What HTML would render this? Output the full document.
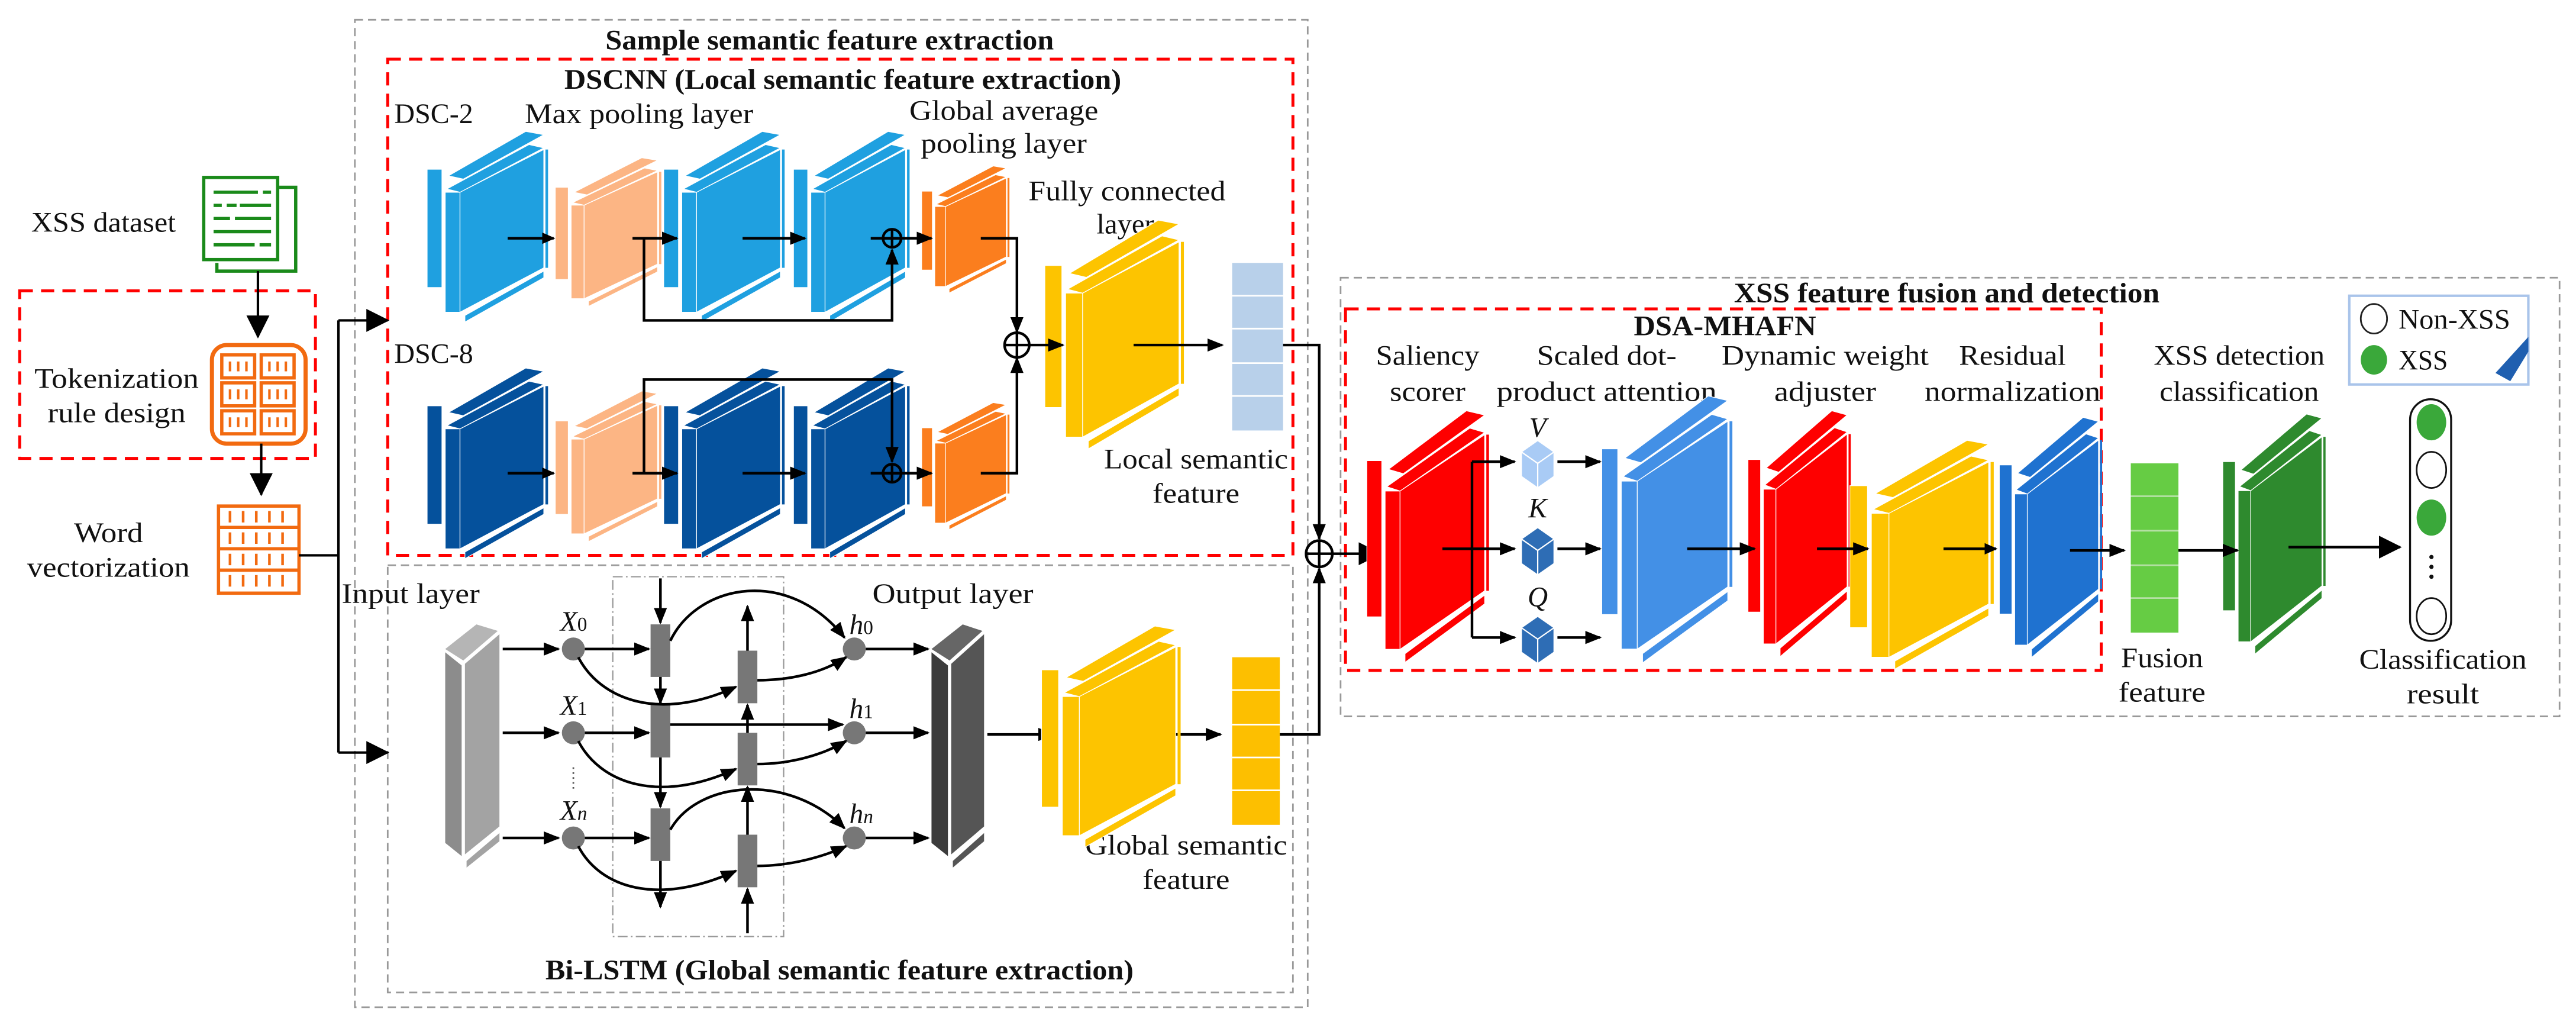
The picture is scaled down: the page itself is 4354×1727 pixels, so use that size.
<!DOCTYPE html>
<html><head><meta charset="utf-8"><style>
html,body{margin:0;padding:0;background:#fff;}
svg{display:block;}
svg text{font-family:"Liberation Serif","DejaVu Serif","Times New Roman",serif;font-size:17px;fill:#111;}
.b{font-weight:bold;}
</style></head><body>
<svg xmlns="http://www.w3.org/2000/svg" xmlns:xlink="http://www.w3.org/1999/xlink" width="4354" height="1727" viewBox="0 0 1568 622" preserveAspectRatio="none" font-family="Liberation Serif, DejaVu Serif, serif">
<defs>
<marker id="a" markerWidth="10" markerHeight="8" refX="9" refY="4" orient="auto" markerUnits="userSpaceOnUse"><path d="M0,0L10,4L0,8z" fill="#000"/></marker>
<marker id="A" markerWidth="14" markerHeight="14" refX="13" refY="7" orient="auto" markerUnits="userSpaceOnUse"><path d="M0,0L14,7L0,14z" fill="#000"/></marker>
<marker id="s" markerWidth="8" markerHeight="7" refX="7" refY="3.5" orient="auto" markerUnits="userSpaceOnUse"><path d="M0,0L8,3.5L0,7z" fill="#000"/></marker>
<g id="blk" stroke="#fff" stroke-width="1.2">
<rect x="0" y="23" width="9" height="72" fill="currentColor" vector-effect="non-scaling-stroke"/>
<rect x="11" y="37" width="9" height="73" fill="currentColor" vector-effect="non-scaling-stroke"/>
<polygon points="20,37 71,11 71,83 20,110" fill="currentColor" vector-effect="non-scaling-stroke"/>
<polygon points="13,27 60,0 71,2 22,29" fill="currentColor" vector-effect="non-scaling-stroke"/>
<polygon points="12,35 62,8 71,10 20,37" fill="currentColor" vector-effect="non-scaling-stroke"/>
<polygon points="23,112 71,85 71,89 23,116" fill="currentColor" vector-effect="non-scaling-stroke"/>
<rect x="72" y="11" width="1.6" height="72" fill="currentColor" stroke="none"/>
</g>
</defs>

<rect x="216" y="12" width="580" height="601" fill="none" stroke="#999" stroke-width="1" stroke-dasharray="5 3"/>
<rect x="236" y="36" width="551" height="302" fill="none" stroke="#f00" stroke-width="1.8" stroke-dasharray="8 5"/>
<rect x="236" y="344" width="551" height="260" fill="none" stroke="#999" stroke-width="1" stroke-dasharray="5 3"/>
<rect x="816" y="169" width="742" height="267" fill="none" stroke="#999" stroke-width="1" stroke-dasharray="5 3"/>
<rect x="819" y="188" width="460" height="220" fill="none" stroke="#f00" stroke-width="1.8" stroke-dasharray="8 5"/>
<rect x="12" y="177" width="180" height="102" fill="none" stroke="#f00" stroke-width="1.8" stroke-dasharray="8 5"/>
<rect x="373" y="351" width="104" height="219" fill="none" stroke="#999" stroke-width="0.8" stroke-dasharray="6 2 1 2"/>

<text class="b" x="505" y="30" text-anchor="middle" textLength="273" lengthAdjust="spacingAndGlyphs">Sample semantic feature extraction</text>
<text class="b" x="513" y="54" text-anchor="middle" textLength="339" lengthAdjust="spacingAndGlyphs">DSCNN (Local semantic feature extraction)</text>
<text class="b" x="511" y="596" text-anchor="middle" textLength="358" lengthAdjust="spacingAndGlyphs">Bi-LSTM (Global semantic feature extraction)</text>
<text class="b" x="1185" y="184" text-anchor="middle" textLength="259" lengthAdjust="spacingAndGlyphs">XSS feature fusion and detection</text>
<text class="b" x="1050" y="204" text-anchor="middle" textLength="111" lengthAdjust="spacingAndGlyphs">DSA-MHAFN</text>

<text x="63" y="141" text-anchor="middle" textLength="88" lengthAdjust="spacingAndGlyphs">XSS dataset</text>
<text x="71" y="236" text-anchor="middle" textLength="100" lengthAdjust="spacingAndGlyphs">Tokenization</text>
<text x="71" y="257" text-anchor="middle" textLength="84" lengthAdjust="spacingAndGlyphs">rule design</text>
<text x="66" y="330" text-anchor="middle" textLength="42" lengthAdjust="spacingAndGlyphs">Word</text>
<text x="66" y="351" text-anchor="middle" textLength="99" lengthAdjust="spacingAndGlyphs">vectorization</text>

<text x="240" y="75" textLength="48" lengthAdjust="spacingAndGlyphs">DSC-2</text>
<text x="389" y="75" text-anchor="middle" textLength="139" lengthAdjust="spacingAndGlyphs">Max pooling layer</text>
<text x="611" y="73" text-anchor="middle" textLength="115" lengthAdjust="spacingAndGlyphs">Global average</text>
<text x="611" y="93" text-anchor="middle" textLength="101" lengthAdjust="spacingAndGlyphs">pooling layer</text>
<text x="686" y="122" text-anchor="middle" textLength="120" lengthAdjust="spacingAndGlyphs">Fully connected</text>
<text x="685" y="142" text-anchor="middle" textLength="35" lengthAdjust="spacingAndGlyphs">layer</text>
<text x="240" y="221" textLength="48" lengthAdjust="spacingAndGlyphs">DSC-8</text>
<text x="728" y="285" text-anchor="middle" textLength="112" lengthAdjust="spacingAndGlyphs">Local semantic</text>
<text x="728" y="306" text-anchor="middle" textLength="53" lengthAdjust="spacingAndGlyphs">feature</text>

<text x="250" y="367" text-anchor="middle" textLength="84" lengthAdjust="spacingAndGlyphs">Input layer</text>
<text x="580" y="367" text-anchor="middle" textLength="98" lengthAdjust="spacingAndGlyphs">Output layer</text>
<text x="722" y="520" text-anchor="middle" textLength="123" lengthAdjust="spacingAndGlyphs">Global semantic</text>
<text x="722" y="541" text-anchor="middle" textLength="53" lengthAdjust="spacingAndGlyphs">feature</text>
<text x="341" y="384" font-style="italic">X<tspan font-style="normal" font-size="12">0</tspan></text>
<text x="341" y="435" font-style="italic">X<tspan font-style="normal" font-size="12">1</tspan></text>
<text x="341" y="499" font-style="italic">X<tspan font-size="12">n</tspan></text>
<text x="517" y="386" font-style="italic">h<tspan font-style="normal" font-size="12">0</tspan></text>
<text x="517" y="437" font-style="italic">h<tspan font-style="normal" font-size="12">1</tspan></text>
<text x="517" y="501" font-style="italic">h<tspan font-size="12">n</tspan></text>

<text x="869" y="222" text-anchor="middle" textLength="63" lengthAdjust="spacingAndGlyphs">Saliency</text>
<text x="869" y="244" text-anchor="middle" textLength="46" lengthAdjust="spacingAndGlyphs">scorer</text>
<text x="978" y="222" text-anchor="middle" textLength="85" lengthAdjust="spacingAndGlyphs">Scaled dot-</text>
<text x="978" y="244" text-anchor="middle" textLength="134" lengthAdjust="spacingAndGlyphs">product attention</text>
<text x="1111" y="222" text-anchor="middle" textLength="126" lengthAdjust="spacingAndGlyphs">Dynamic weight</text>
<text x="1111" y="244" text-anchor="middle" textLength="62" lengthAdjust="spacingAndGlyphs">adjuster</text>
<text x="1225" y="222" text-anchor="middle" textLength="65" lengthAdjust="spacingAndGlyphs">Residual</text>
<text x="1225" y="244" text-anchor="middle" textLength="107" lengthAdjust="spacingAndGlyphs">normalization</text>
<text x="1363" y="222" text-anchor="middle" textLength="104" lengthAdjust="spacingAndGlyphs">XSS detection</text>
<text x="1363" y="244" text-anchor="middle" textLength="97" lengthAdjust="spacingAndGlyphs">classification</text>
<text x="1316" y="406" text-anchor="middle" textLength="50" lengthAdjust="spacingAndGlyphs">Fusion</text>
<text x="1316" y="427" text-anchor="middle" textLength="53" lengthAdjust="spacingAndGlyphs">feature</text>
<text x="1487" y="407" text-anchor="middle" textLength="102" lengthAdjust="spacingAndGlyphs">Classification</text>
<text x="1487" y="428" text-anchor="middle" textLength="44" lengthAdjust="spacingAndGlyphs">result</text>
<text x="936" y="266" text-anchor="middle" font-style="italic" font-size="15">V</text>
<text x="936" y="315" text-anchor="middle" font-style="italic" font-size="15">K</text>
<text x="936" y="369" text-anchor="middle" font-style="italic" font-size="15">Q</text>

<rect x="1430" y="180" width="109" height="54" fill="#fff" stroke="#a9c4ea" stroke-width="1.5"/>
<polygon points="1539,205 1539,214 1528,232 1519,227" fill="#1f5fb0"/>
<ellipse cx="1445" cy="194" rx="8" ry="9" fill="#fff" stroke="#222" stroke-width="1"/>
<ellipse cx="1445" cy="219" rx="8" ry="9" fill="#3aa83a"/>
<text x="1460" y="200" textLength="68" lengthAdjust="spacingAndGlyphs">Non-XSS</text>
<text x="1460" y="225" textLength="30" lengthAdjust="spacingAndGlyphs">XSS</text>

<path d="M170,114H180V165H132V160" fill="none" stroke="#1a8a1a" stroke-width="2"/>
<rect x="124" y="108" width="45" height="50" fill="#fff" stroke="#1a8a1a" stroke-width="2"/>
<g stroke="#1a8a1a" stroke-width="2">
<line x1="130" y1="117" x2="157" y2="117"/><line x1="160" y1="117" x2="165" y2="117"/>
<line x1="130" y1="125" x2="135" y2="125"/><line x1="138" y1="125" x2="144" y2="125"/><line x1="146" y1="125" x2="165" y2="125"/>
<line x1="130" y1="133" x2="140" y2="133"/><line x1="143" y1="133" x2="165" y2="133"/>
<line x1="130" y1="141" x2="165" y2="141"/>
<line x1="130" y1="149" x2="155" y2="149"/><line x1="158" y1="149" x2="165" y2="149"/>
</g>
<line x1="157" y1="165" x2="157" y2="205" stroke="#000" stroke-width="1.5" marker-end="url(#A)"/>
<rect x="129" y="210" width="57" height="60" rx="9" fill="#fff" stroke="#f26a10" stroke-width="2.5"/>
<g fill="#fff" stroke="#f26a10" stroke-width="2">
<rect x="135" y="216" width="20" height="14"/><rect x="159" y="216" width="20" height="14"/>
<rect x="135" y="233" width="20" height="14"/><rect x="159" y="233" width="20" height="14"/>
<rect x="135" y="250" width="20" height="14"/><rect x="159" y="250" width="20" height="14"/>
</g>
<g stroke="#f26a10" stroke-width="1.5">
<path d="M140,220v6M145,220v6M150,220v6M164,220v6M169,220v6M174,220v6M140,237v6M145,237v6M150,237v6M164,237v6M169,237v6M174,237v6M140,254v6M145,254v6M150,254v6M164,254v6M169,254v6M174,254v6"/>
</g>
<line x1="159" y1="270" x2="159" y2="301" stroke="#000" stroke-width="1.5" marker-end="url(#A)"/>
<rect x="133" y="308" width="49" height="53" fill="#fff" stroke="#f26a10" stroke-width="2"/>
<g stroke="#f26a10" stroke-width="2">
<line x1="133" y1="321" x2="182" y2="321"/><line x1="133" y1="334" x2="182" y2="334"/><line x1="133" y1="347" x2="182" y2="347"/>
</g>
<g stroke="#f26a10" stroke-width="1.6">
<path d="M140,311v7M148,311v7M156,311v7M164,311v7M172,311v7M140,324v7M148,324v7M156,324v7M164,324v7M172,324v7M140,337v7M148,337v7M156,337v7M164,337v7M172,337v7M140,350v7M148,350v7M156,350v7M164,350v7M172,350v7"/>
</g>
<g stroke="#000" stroke-width="1.5" fill="none">
<path d="M182,338H206M206,195V458"/>
<line x1="206" y1="195" x2="236" y2="195" marker-end="url(#A)"/>
<line x1="206" y1="458" x2="236" y2="458" marker-end="url(#A)"/>
</g>

<use href="#blk" xlink:href="#blk" transform="translate(260,80) scale(1,1)" style="color:#1fa0e0"/>
<use href="#blk" xlink:href="#blk" transform="translate(338,96) scale(0.877,0.78)" style="color:#fcb584"/>
<use href="#blk" xlink:href="#blk" transform="translate(404,80) scale(1,1)" style="color:#1fa0e0"/>
<use href="#blk" xlink:href="#blk" transform="translate(483,80) scale(0.96,1)" style="color:#1fa0e0"/>
<use href="#blk" xlink:href="#blk" transform="translate(561,101) scale(0.726,0.667)" style="color:#fb7e1e"/>
<use href="#blk" xlink:href="#blk" transform="translate(260,224) scale(1,1)" style="color:#05519c"/>
<use href="#blk" xlink:href="#blk" transform="translate(338,238) scale(0.877,0.79)" style="color:#fcb584"/>
<use href="#blk" xlink:href="#blk" transform="translate(404,224) scale(1,1)" style="color:#05519c"/>
<use href="#blk" xlink:href="#blk" transform="translate(483,224) scale(0.96,1)" style="color:#05519c"/>
<use href="#blk" xlink:href="#blk" transform="translate(561,245) scale(0.726,0.667)" style="color:#fb7e1e"/>
<use href="#blk" xlink:href="#blk" transform="translate(636,134) scale(1.15,1.2)" style="color:#fdc400"/>
<rect x="750" y="160" width="31" height="102" fill="#b8d0ea"/>
<g stroke="#fff" stroke-width="1"><line x1="750" y1="180" x2="781" y2="180"/><line x1="750" y1="200" x2="781" y2="200"/><line x1="750" y1="221" x2="781" y2="221"/><line x1="750" y1="241" x2="781" y2="241"/></g>

<g stroke="#000" stroke-width="1.6" fill="none">
<line x1="309" y1="145" x2="337" y2="145" marker-end="url(#s)"/>
<line x1="385" y1="145" x2="412" y2="145" marker-end="url(#a)"/>
<line x1="452" y1="145" x2="490" y2="145" marker-end="url(#a)"/>
<line x1="530" y1="145" x2="567" y2="145" marker-end="url(#a)"/>
<path d="M392,145V195H543V152" marker-end="url(#a)"/>
<circle cx="543" cy="145" r="5.5"/><path d="M537.5,145h11M543,139.5v11"/>
<line x1="309" y1="288" x2="337" y2="288" marker-end="url(#s)"/>
<line x1="385" y1="288" x2="412" y2="288" marker-end="url(#a)"/>
<line x1="452" y1="288" x2="490" y2="288" marker-end="url(#a)"/>
<line x1="530" y1="288" x2="567" y2="288" marker-end="url(#a)"/>
<path d="M392,288V231H543V281" marker-end="url(#a)"/>
<circle cx="543" cy="288" r="5.5"/><path d="M537.5,288h11M543,282.5v11"/>
<path d="M597,145H619V202" marker-end="url(#a)"/>
<path d="M597,288H619V218" marker-end="url(#a)"/>
<circle cx="619" cy="210" r="7.5"/><path d="M611.5,210h15M619,202.5v15"/>
<line x1="627" y1="210" x2="647" y2="210" marker-end="url(#a)"/>
<line x1="690" y1="210" x2="744" y2="210" marker-end="url(#a)"/>
<path d="M781,210H803V328" marker-end="url(#a)"/>
<path d="M779,447H803V346" marker-end="url(#a)"/>
<circle cx="803" cy="337" r="8"/><path d="M795,337h16M803,329v16"/>
<line x1="811" y1="337" x2="840" y2="337" marker-end="url(#A)"/>
</g>

<polygon points="271,397 281,405 281,521 271,513" fill="#8c8c8c"/>
<polygon points="283,404 304,386 304,503 283,520" fill="#a3a3a3"/>
<polygon points="271,395 290,380 303,384 282,402" fill="#b5b5b5"/>
<polygon points="284,524 304,507 304,512 284,528" fill="#a3a3a3"/>
<polygon points="567,397 577,405 577,521 567,513" fill="#3c3c3c"/>
<polygon points="579,404 599,386 599,503 579,520" fill="#555"/>
<polygon points="567,395 586,380 598,384 578,402" fill="#666"/>
<polygon points="580,524 599,507 599,512 580,528" fill="#555"/>
<g fill="#777">
<circle cx="349" cy="395" r="7"/><circle cx="349" cy="446" r="7"/><circle cx="349" cy="510" r="7"/>
<circle cx="520" cy="395" r="7"/><circle cx="520" cy="446" r="7"/><circle cx="520" cy="510" r="7"/>
<rect x="396" y="380" width="12" height="32"/><rect x="396" y="429" width="12" height="32"/><rect x="396" y="492" width="12" height="32"/>
<rect x="449" y="396" width="12" height="32"/><rect x="449" y="446" width="12" height="32"/><rect x="449" y="508" width="12" height="32"/>
</g>
<g stroke="#000" stroke-width="1.6" fill="none">
<line x1="306" y1="395" x2="340" y2="395" marker-end="url(#a)"/>
<line x1="306" y1="446" x2="340" y2="446" marker-end="url(#a)"/>
<line x1="306" y1="510" x2="340" y2="510" marker-end="url(#a)"/>
<line x1="356" y1="395" x2="395" y2="395" marker-end="url(#a)"/>
<line x1="356" y1="446" x2="395" y2="446" marker-end="url(#a)"/>
<line x1="356" y1="510" x2="395" y2="510" marker-end="url(#a)"/>
<path d="M352,400C365,425 400,440 448,418" marker-end="url(#a)"/>
<path d="M352,451C365,476 400,490 448,468" marker-end="url(#a)"/>
<path d="M352,515C365,540 400,552 448,530" marker-end="url(#a)"/>
<path d="M408,390C425,355 480,345 514,388" marker-end="url(#a)"/>
<path d="M408,441L513,441" marker-end="url(#a)"/>
<path d="M408,505C425,475 480,470 514,504" marker-end="url(#a)"/>
<path d="M461,414C480,414 500,410 515,400" marker-end="url(#a)"/>
<path d="M461,465C480,465 500,460 515,451" marker-end="url(#a)"/>
<path d="M461,527C480,527 500,522 515,515" marker-end="url(#a)"/>
<line x1="402" y1="352" x2="402" y2="379" marker-end="url(#a)"/>
<line x1="402" y1="412" x2="402" y2="428" marker-end="url(#a)"/>
<line x1="402" y1="461" x2="402" y2="491" marker-end="url(#a)"/>
<line x1="402" y1="524" x2="402" y2="552" marker-end="url(#a)"/>
<line x1="455" y1="568" x2="455" y2="541" marker-end="url(#a)"/>
<line x1="455" y1="508" x2="455" y2="479" marker-end="url(#a)"/>
<line x1="455" y1="446" x2="455" y2="429" marker-end="url(#a)"/>
<line x1="455" y1="396" x2="455" y2="369" marker-end="url(#a)"/>
<line x1="527" y1="395" x2="565" y2="395" marker-end="url(#a)"/>
<line x1="527" y1="446" x2="565" y2="446" marker-end="url(#a)"/>
<line x1="527" y1="510" x2="565" y2="510" marker-end="url(#a)"/>
<line x1="601" y1="447" x2="641" y2="447" marker-end="url(#a)"/>
<line x1="689" y1="447" x2="743" y2="447" marker-end="url(#a)"/>
</g>
<g stroke="#555" stroke-width="1" stroke-dasharray="1 2"><line x1="349" y1="467" x2="349" y2="482"/></g>
<use href="#blk" xlink:href="#blk" transform="translate(634,381) scale(1.15,1.16)" style="color:#fdc400"/>
<rect x="750" y="400" width="29" height="102" fill="#fdbf00"/>
<g stroke="#fff" stroke-width="1"><line x1="750" y1="420" x2="779" y2="420"/><line x1="750" y1="441" x2="779" y2="441"/><line x1="750" y1="461" x2="779" y2="461"/><line x1="750" y1="481" x2="779" y2="481"/></g>

<use href="#blk" xlink:href="#blk" transform="translate(832,250) scale(1.01,1.32)" style="color:#fe0000"/>
<use href="#blk" xlink:href="#blk" transform="translate(975,241) scale(1.08,1.4)" style="color:#4390e6"/>
<use href="#blk" xlink:href="#blk" transform="translate(1064,250) scale(0.85,1.29)" style="color:#fe0000"/>
<use href="#blk" xlink:href="#blk" transform="translate(1126,268) scale(1.19,1.2)" style="color:#fdc400"/>
<use href="#blk" xlink:href="#blk" transform="translate(1217,254) scale(0.85,1.26)" style="color:#1f72d0"/>
<use href="#blk" xlink:href="#blk" transform="translate(1353,252) scale(0.85,1.26)" style="color:#2e8a2e"/>
<g stroke="#fff" stroke-width="0.8">
<polygon points="926,275 936,268 946,275 946,290 936,297 926,290" fill="#a9cbf5"/>
<polygon points="926,328 936,321 946,328 946,343 936,350 926,343" fill="#2e6db5"/>
<polygon points="926,382 936,375 946,382 946,397 936,404 926,397" fill="#2e6db5"/>
<path d="M926,275L936,282L946,275M936,282V297M926,328L936,335L946,328M936,335V350M926,382L936,389L946,382M936,389V404" fill="none"/>
</g>
<rect x="1297" y="282" width="29" height="103" fill="#66cc44"/>
<g stroke="#b5e0a5" stroke-width="1"><line x1="1297" y1="302" x2="1326" y2="302"/><line x1="1297" y1="323" x2="1326" y2="323"/><line x1="1297" y1="344" x2="1326" y2="344"/><line x1="1297" y1="364" x2="1326" y2="364"/></g>
<rect x="1467" y="243" width="25" height="147" rx="12.5" fill="#fff" stroke="#111" stroke-width="1.2"/>
<ellipse cx="1480" cy="257" rx="9" ry="11" fill="#3aa83a"/>
<ellipse cx="1480" cy="286" rx="9" ry="11" fill="#fff" stroke="#111" stroke-width="1"/>
<ellipse cx="1480" cy="315" rx="9" ry="11" fill="#3aa83a"/>
<ellipse cx="1480" cy="375" rx="9" ry="11" fill="#fff" stroke="#111" stroke-width="1"/>
<g fill="#111"><circle cx="1480" cy="339" r="1.3"/><circle cx="1480" cy="345" r="1.3"/><circle cx="1480" cy="351" r="1.3"/></g>
<g stroke="#000" stroke-width="1.6" fill="none">
<path d="M896,281V388"/>
<line x1="896" y1="281" x2="922" y2="281" marker-end="url(#a)"/>
<line x1="878" y1="334" x2="922" y2="334" marker-end="url(#a)"/>
<line x1="896" y1="388" x2="922" y2="388" marker-end="url(#a)"/>
<line x1="948" y1="281" x2="974" y2="281" marker-end="url(#a)"/>
<line x1="948" y1="334" x2="974" y2="334" marker-end="url(#a)"/>
<line x1="948" y1="388" x2="974" y2="388" marker-end="url(#a)"/>
<line x1="1027" y1="334" x2="1068" y2="334" marker-end="url(#a)"/>
<line x1="1106" y1="334" x2="1137" y2="334" marker-end="url(#a)"/>
<line x1="1183" y1="334" x2="1215" y2="334" marker-end="url(#s)"/>
<line x1="1260" y1="335" x2="1293" y2="335" marker-end="url(#a)"/>
<line x1="1326" y1="335" x2="1362" y2="335" marker-end="url(#a)"/>
<line x1="1393" y1="333" x2="1461" y2="333" marker-end="url(#A)"/>
</g>
</svg>
</body></html>
